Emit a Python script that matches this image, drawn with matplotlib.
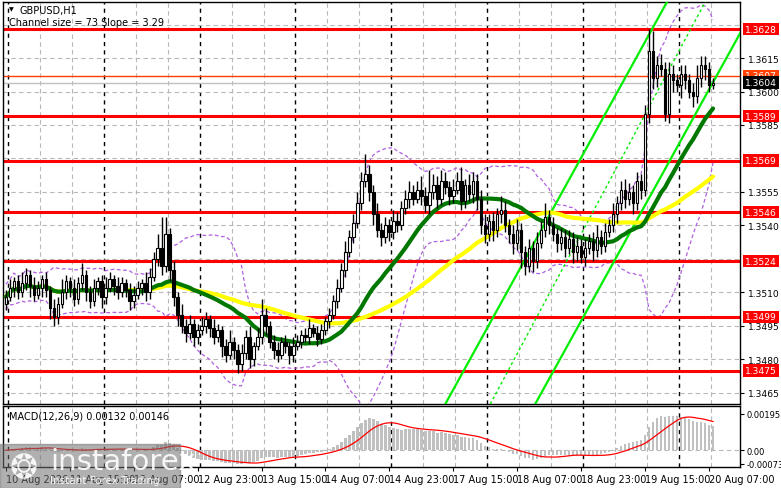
import matplotlib

matplotlib.use("Agg")

import matplotlib.pyplot as plt
import numpy as np
import pandas as pd

# hourly closes, GBPUSD H1
closes = [
    1.3508, 1.3512, 1.3515, 1.3510, 1.3514, 1.3518, 1.3513, 1.3509, 1.3512, 1.3516,
    1.3511, 1.3503, 1.3499, 1.3505, 1.3510, 1.3515, 1.3512, 1.3507, 1.3514, 1.3518,
    1.3510, 1.3506, 1.3512, 1.3515, 1.3508, 1.3512, 1.3516, 1.3513, 1.3510, 1.3514,
    1.3511, 1.3506, 1.3509, 1.3512, 1.3514, 1.3510, 1.3517, 1.3525, 1.3530, 1.3522,
    1.3536, 1.3520, 1.3508, 1.3500, 1.3495, 1.3492, 1.3496, 1.3490, 1.3493, 1.3495,
    1.3498, 1.3494, 1.3490, 1.3493, 1.3486, 1.3482, 1.3488, 1.3484, 1.3478, 1.3483,
    1.3490, 1.3480, 1.3486, 1.3490, 1.3500, 1.3495, 1.3488, 1.3484, 1.3482, 1.3488,
    1.3486, 1.3482, 1.3486, 1.3488, 1.3491, 1.3490, 1.3494, 1.3492, 1.3489, 1.3493,
    1.3497, 1.3500, 1.3506, 1.3512, 1.3520, 1.3528, 1.3535, 1.3541, 1.3550, 1.3560,
    1.3563, 1.3555, 1.3545, 1.3538, 1.3535, 1.3540, 1.3537, 1.3542, 1.3540, 1.3548,
    1.3552, 1.3555, 1.3552, 1.3556, 1.3553, 1.3549, 1.3555, 1.3558, 1.3552, 1.3560,
    1.3557, 1.3553, 1.3556, 1.3560, 1.3551, 1.3558, 1.3554, 1.3560, 1.3552, 1.3540,
    1.3536, 1.3542, 1.3538, 1.3545, 1.3547, 1.3540, 1.3536, 1.3532, 1.3538, 1.3528,
    1.3522, 1.3530, 1.3524, 1.3532, 1.3538, 1.3544, 1.3540, 1.3536, 1.3532, 1.3535,
    1.3530, 1.3534, 1.3528, 1.3531, 1.3526, 1.3530, 1.3533, 1.3529, 1.3535, 1.3531,
    1.3537, 1.3540, 1.3545, 1.3550, 1.3556, 1.3552, 1.3555, 1.3550, 1.3560, 1.3556,
    1.3590, 1.3618, 1.3606, 1.3612, 1.3610, 1.3590, 1.3608, 1.3605, 1.3603, 1.3608,
    1.3605, 1.3600, 1.3598, 1.3606, 1.3612, 1.3610, 1.3603, 1.3604,
]
first_open = 1.3505

# wick lengths in pips
upper_wick = [
    3, 4, 2, 3, 5, 3, 2, 4, 3, 2, 3, 2, 4, 3, 6, 3, 2, 4, 3, 5,
    2, 3, 4, 2, 3, 5, 3, 2, 4, 3, 2, 3, 4, 3, 2, 5, 4, 3, 6, 14,
    8, 3, 4, 2, 5, 3, 4, 2, 3, 4, 3, 2, 4, 3, 2, 3, 5, 2, 3, 4,
    3, 5, 2, 4, 7, 3, 2, 3, 4, 2, 3, 2, 4, 3, 2, 3, 4, 2, 3, 3,
    2, 3, 3, 4, 3, 5, 3, 4, 5, 4, 9, 4, 3, 5, 3, 4, 3, 5, 4, 3,
    4, 5, 3, 4, 6, 4, 10, 5, 4, 5, 4, 3, 5, 4, 6, 3, 5, 4, 3, 4,
    5, 3, 4, 3, 6, 4, 3, 4, 5, 3, 3, 4, 3, 5, 4, 6, 3, 4, 3, 4,
    3, 4, 3, 4, 3, 4, 3, 4, 5, 3, 4, 3, 5, 3, 4, 5, 4, 3, 4, 3,
    4, 10, 9, 4, 5, 3, 5, 4, 3, 4, 4, 3, 4, 6, 4, 4, 3, 2,
]
lower_wick = [
    3, 2, 4, 3, 2, 3, 5, 3, 2, 4, 3, 5, 4, 3, 2, 3, 4, 3, 2, 3,
    4, 3, 2, 3, 5, 3, 2, 4, 3, 2, 3, 4, 3, 2, 3, 4, 3, 2, 3, 4,
    3, 5, 4, 5, 3, 4, 3, 4, 3, 2, 3, 4, 3, 2, 5, 3, 2, 4, 4, 3,
    3, 4, 3, 2, 3, 4, 3, 4, 3, 2, 3, 4, 3, 2, 3, 2, 3, 2, 3, 2,
    2, 3, 2, 3, 2, 3, 2, 3, 2, 3, 3, 4, 5, 3, 4, 3, 4, 3, 3, 2,
    3, 4, 3, 2, 4, 3, 4, 3, 4, 3, 3, 4, 3, 2, 4, 3, 3, 4, 5, 4,
    4, 3, 5, 3, 4, 3, 4, 5, 3, 7, 4, 3, 5, 3, 2, 3, 4, 3, 4, 3,
    4, 3, 5, 4, 3, 4, 3, 5, 3, 4, 3, 2, 3, 4, 3, 4, 3, 5, 3, 4,
    3, 4, 5, 4, 3, 3, 4, 5, 3, 6, 4, 3, 5, 3, 4, 5, 3, 2,
]

levels = [1.3628, 1.3589, 1.3569, 1.3546, 1.3524, 1.3499, 1.3475]
ask_level = 1.3607
bid_level = 1.3604
price_ticks = [1.3615, 1.3600, 1.3585, 1.3555, 1.3540, 1.3510, 1.3495, 1.3480, 1.3465]
grid_prices = [1.3465, 1.3480, 1.3495, 1.3510, 1.3525, 1.3540, 1.3555, 1.3570,
               1.3585, 1.3600, 1.3615, 1.3630]

time_labels = ["10 Aug 2026", "11 Aug 15:00", "12 Aug 07:00", "12 Aug 23:00",
               "13 Aug 15:00", "14 Aug 07:00", "14 Aug 23:00", "17 Aug 15:00",
               "18 Aug 07:00", "18 Aug 23:00", "19 Aug 15:00", "20 Aug 07:00"]

# regression channel anchors (bar index, price)
channel_upper = [(110.0, 1.3460), (161.75, 1.3628)]
channel_mid = [(121.25, 1.3460), (175.0, 1.3640)]
channel_lower = [(132.5, 1.3460), (183.75, 1.3626)]

close = np.array(closes)
opens = np.concatenate([[first_open], close[:-1]])
highs = np.maximum(opens, close) + np.array(upper_wick) * 1e-4
lows = np.minimum(opens, close) - np.array(lower_wick) * 1e-4
n = len(close)
idx = np.arange(n)

series = pd.Series(close)
ma_fast = series.rolling(24, min_periods=1).mean()
ma_slow = series.rolling(50, min_periods=1).mean()
bb_mid = series.rolling(20, min_periods=1).mean()
bb_std = series.rolling(20, min_periods=2).std().bfill()
ema12 = series.ewm(span=12, adjust=False).mean()
ema26 = series.ewm(span=26, adjust=False).mean()
macd = ema12 - ema26
signal = macd.rolling(9, min_periods=1).mean()

W, H = 781, 489
FS = 6.6
fig = plt.figure(figsize=(W / 100, H / 100), dpi=100)
fig.patch.set_facecolor("white")

def rect(x0, y0, x1, y1):
    return [x0 / W, 1 - y1 / H, (x1 - x0) / W, (y1 - y0) / H]

ax = fig.add_axes(rect(3, 3, 740, 405))
mx = fig.add_axes(rect(3, 407, 740, 468), sharex=ax)

XMIN, XMAX = -0.7, 183.75
YMIN, YMAX = 1.3460, 1.36401

for a in (ax, mx):
    for s in a.spines.values():
        s.set_color("black")
        s.set_linewidth(1)
    a.set_facecolor("white")
    for v in range(8, 184, 8):
        if v % 24 == 0:
            continue
        a.axvline(v + 0.5, color="#b8b8b8", ls=(0, (4, 3)), lw=0.8, zorder=0)
    for v in range(0, 184, 24):
        a.axvline(v + 0.5, color="black", ls=(0, (3, 3)), lw=1, zorder=0)

for p in grid_prices:
    ax.axhline(p, color="#b8b8b8", ls=(0, (4, 3)), lw=0.8, zorder=0)

# bollinger bands
ax.plot(idx, bb_mid + 2 * bb_std, color="#b060e0", ls=(0, (3, 2)), lw=0.9, zorder=1)
ax.plot(idx, bb_mid - 2 * bb_std, color="#b060e0", ls=(0, (3, 2)), lw=0.9, zorder=1)

# levels
for lv in levels:
    ax.axhline(lv, color="#ff0000", lw=2.2, zorder=2)
ax.axhline(ask_level, color="#ff4000", lw=1, zorder=2)
ax.axhline(bid_level, color="#c0c0c0", lw=1, zorder=2)

# channel
for pts, style in ((channel_upper, "-"), (channel_mid, (0, (2, 2))), (channel_lower, "-")):
    (x0, y0), (x1, y1) = pts
    slope = (y1 - y0) / (x1 - x0)
    xs = np.array([x0, XMAX + 5])
    ax.plot(xs, y0 + slope * (xs - x0), color="#00ee00", ls=style,
            lw=1.6 if style == "-" else 1, zorder=3)

# moving averages
ax.plot(idx, ma_slow, color="#ffff00", lw=3, zorder=4, solid_capstyle="round")
ax.plot(idx, ma_fast, color="#007800", lw=3, zorder=4, solid_capstyle="round")

# candles
ax.vlines(idx, lows, highs, color="black", lw=1, zorder=5)
up = close >= opens
body = np.maximum(np.abs(close - opens), 0.00004)
ax.bar(idx[up], body[up], 0.6, bottom=opens[up], color="white", edgecolor="black",
       lw=0.8, zorder=6)
ax.bar(idx[~up], body[~up], 0.6, bottom=close[~up], color="black", edgecolor="black",
       lw=0.8, zorder=6)

ax.set_xlim(XMIN, XMAX)
ax.set_ylim(YMIN, YMAX)
ax.yaxis.tick_right()
ax.set_yticks(price_ticks)
ax.set_yticklabels(["%.4f" % p for p in price_ticks])
ax.tick_params(axis="y", labelsize=FS, length=3, pad=3)
ax.tick_params(axis="x", bottom=False, labelbottom=False)

def box_label(axis, y, text, fc, tc="white"):
    axis.text(1.007, y, text, transform=axis.get_yaxis_transform(), fontsize=FS,
              color=tc, va="center", ha="left",
              bbox=dict(boxstyle="square,pad=0.2", fc=fc, ec="none"), zorder=10,
              clip_on=False)

for lv in levels:
    box_label(ax, lv, "%.4f" % lv, "#ff0000")
box_label(ax, ask_level, "%.4f" % ask_level, "#ff4000")
box_label(ax, bid_level, "%.4f" % bid_level, "black")

ax.text(0.008, 0.99, "\u25BC", transform=ax.transAxes, fontsize=4.5, va="top")
ax.text(0.022, 0.993, "GBPUSD,H1", transform=ax.transAxes, fontsize=FS + 0.4, va="top")
ax.text(0.008, 0.963, "Channel size = 73 Slope = 3.29", transform=ax.transAxes,
        fontsize=FS + 0.4, va="top")

# MACD panel
mx.bar(idx, macd, 0.6, color="#c0c0c0", zorder=2)
mx.plot(idx, signal, color="#ff0000", lw=0.9, zorder=3)
mx.axhline(0, color="#b8b8b8", ls=(0, (4, 3)), lw=0.8, zorder=0)
mx.set_ylim(-0.0009, 0.00237)
mx.yaxis.tick_right()
mx.set_yticks([0.00195, 0.0, -0.00073])
mx.set_yticklabels(["0.00195", "0.00", "-0.00073"])
mx.tick_params(axis="y", labelsize=6.0, length=3, pad=2)
mx.set_xticks([i * 16 for i in range(len(time_labels))])
mx.set_xticklabels(time_labels, ha="left", fontsize=FS + 0.4)
mx.tick_params(axis="x", length=3, pad=2)
mx.text(0.008, 0.93, "MACD(12,26,9) 0.00132 0.00146", transform=mx.transAxes,
        fontsize=FS + 0.4, va="top")

# watermark
fig.patches.append(plt.Rectangle((0, 0), 180 / W, 44 / H, transform=fig.transFigure,
                                 color="#707070", alpha=0.55, zorder=20))
fig.text(50 / W, 1 - 470 / H, "instaforex", fontsize=21, color="white", alpha=0.9,
         va="baseline", zorder=21)
fig.text(50 / W, 1 - 484 / H, "Instant Forex Trading", fontsize=7.5, color="white",
         alpha=0.9, va="baseline", zorder=21)
fig.text(10 / W, 1 - 478 / H, "\u2742", fontsize=24, color="white", alpha=0.9,
         va="baseline", zorder=21)

fig.savefig("out.png", dpi=100)
